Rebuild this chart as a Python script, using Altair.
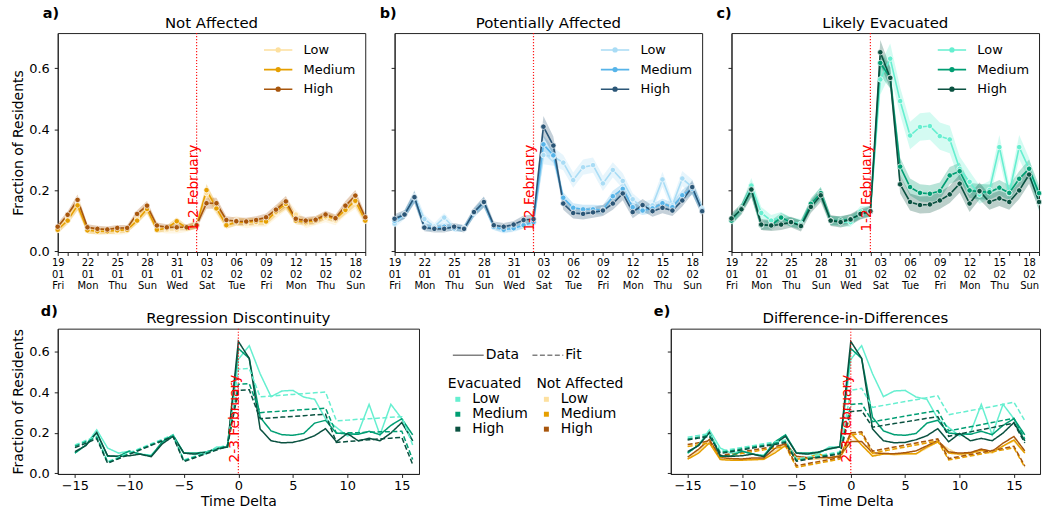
import json
import altair as alt
import pandas as pd

# ---------------- data ----------------
DAYS = list(range(32))                 # 19 Jan .. 19 Feb (daily)
TICK_LABELS = ["19|01|Fri", "", "", "22|01|Mon", "", "", "25|01|Thu", "", "", "28|01|Sun", "", "",
               "31|01|Wed", "", "", "03|02|Sat", "", "", "06|02|Tue", "", "", "09|02|Fri", "", "",
               "12|02|Mon", "", "", "15|02|Thu", "", "", "18|02|Sun", ""]
DELTAS = list(range(-15, 17))
LEVELS = ["Low", "Medium", "High"]

NA_LOW = [0.07, 0.11, 0.155, 0.07, 0.065, 0.068, 0.065, 0.068, 0.11, 0.14, 0.075, 0.07, 0.07, 0.075, 0.09, 0.19,
          0.14, 0.09, 0.10, 0.09, 0.095, 0.095, 0.125, 0.155, 0.12, 0.09, 0.10, 0.11, 0.10, 0.135, 0.16, 0.10]
NA_MED = [0.07, 0.10, 0.15, 0.068, 0.065, 0.065, 0.068, 0.07, 0.10, 0.138, 0.07, 0.075, 0.098, 0.075, 0.085, 0.20,
          0.14, 0.085, 0.095, 0.095, 0.097, 0.097, 0.13, 0.155, 0.10, 0.095, 0.10, 0.115, 0.105, 0.135, 0.165, 0.10]
NA_HIGH = [0.08, 0.119, 0.168, 0.078, 0.073, 0.071, 0.076, 0.076, 0.122, 0.149, 0.084, 0.078, 0.078, 0.078, 0.085, 0.157,
           0.157, 0.102, 0.098, 0.097, 0.102, 0.111, 0.136, 0.163, 0.106, 0.10, 0.103, 0.12, 0.108, 0.149, 0.182, 0.111]

PA_LOW = [0.09, 0.12, 0.18, 0.105, 0.08, 0.11, 0.075, 0.075, 0.125, 0.16, 0.08, 0.07, 0.075, 0.085, 0.095, 0.315,
          0.31, 0.29, 0.233, 0.275, 0.282, 0.222, 0.266, 0.23, 0.17, 0.142, 0.15, 0.235, 0.15, 0.238, 0.21, 0.14]
PA_MED = [0.10, 0.12, 0.175, 0.08, 0.075, 0.08, 0.075, 0.075, 0.125, 0.16, 0.08, 0.07, 0.075, 0.085, 0.095, 0.35,
          0.314, 0.175, 0.142, 0.137, 0.137, 0.135, 0.18, 0.204, 0.144, 0.133, 0.14, 0.157, 0.144, 0.183, 0.205, 0.135]
PA_HIGH = [0.106, 0.12, 0.177, 0.077, 0.073, 0.073, 0.08, 0.073, 0.128, 0.161, 0.085, 0.08, 0.087, 0.102, 0.105, 0.408,
           0.346, 0.156, 0.125, 0.122, 0.127, 0.133, 0.156, 0.189, 0.128, 0.151, 0.131, 0.142, 0.133, 0.166, 0.21, 0.131]

EV_LOW = [0.10, 0.14, 0.215, 0.125, 0.10, 0.11, 0.095, 0.09, 0.15, 0.19, 0.10, 0.095, 0.095, 0.13, 0.13, 0.563,
          0.631, 0.492, 0.379, 0.407, 0.41, 0.377, 0.366, 0.27, 0.227, 0.185, 0.2, 0.341, 0.19, 0.341, 0.27, 0.16]
EV_MED = [0.10, 0.14, 0.20, 0.085, 0.085, 0.11, 0.095, 0.085, 0.155, 0.19, 0.10, 0.10, 0.105, 0.12, 0.13, 0.617,
          0.568, 0.277, 0.21, 0.191, 0.188, 0.197, 0.248, 0.262, 0.199, 0.195, 0.193, 0.208, 0.191, 0.237, 0.27, 0.19]
EV_HIGH = [0.107, 0.137, 0.202, 0.087, 0.084, 0.087, 0.095, 0.082, 0.145, 0.183, 0.10, 0.095, 0.104, 0.122, 0.131, 0.652,
           0.568, 0.219, 0.161, 0.151, 0.153, 0.166, 0.186, 0.221, 0.156, 0.197, 0.161, 0.173, 0.161, 0.199, 0.251, 0.161]

# confidence band half-widths
NA_LOW_CI = [0.015, 0.015, 0.02, 0.012, 0.012, 0.012, 0.012, 0.012, 0.015, 0.02, 0.012, 0.012, 0.012, 0.012, 0.015, 0.025,
             0.02, 0.015, 0.015, 0.015, 0.015, 0.015, 0.018, 0.022, 0.015, 0.015, 0.015, 0.015, 0.015, 0.018, 0.022, 0.015]
NA_MED_CI = [0.012, 0.012, 0.018, 0.01, 0.01, 0.01, 0.01, 0.01, 0.012, 0.015, 0.01, 0.01, 0.012, 0.01, 0.012, 0.02,
             0.015, 0.012, 0.012, 0.012, 0.012, 0.012, 0.015, 0.018, 0.012, 0.012, 0.012, 0.012, 0.012, 0.015, 0.018, 0.012]
NA_HIGH_CI = [0.012, 0.012, 0.018, 0.01, 0.01, 0.01, 0.01, 0.01, 0.012, 0.015, 0.01, 0.01, 0.01, 0.01, 0.012, 0.018,
              0.018, 0.012, 0.012, 0.012, 0.012, 0.012, 0.015, 0.018, 0.012, 0.012, 0.012, 0.012, 0.012, 0.015, 0.018, 0.012]
PA_LOW_CI = [0.015, 0.015, 0.02, 0.015, 0.012, 0.015, 0.012, 0.012, 0.015, 0.018, 0.012, 0.012, 0.012, 0.012, 0.015, 0.03,
             0.03, 0.025, 0.025, 0.025, 0.025, 0.025, 0.025, 0.025, 0.02, 0.02, 0.02, 0.025, 0.02, 0.025, 0.025, 0.02]
PA_MED_CI = [0.012, 0.012, 0.018, 0.012, 0.01, 0.012, 0.01, 0.01, 0.012, 0.015, 0.01, 0.01, 0.01, 0.01, 0.012, 0.03,
             0.025, 0.018, 0.015, 0.015, 0.015, 0.015, 0.018, 0.018, 0.015, 0.015, 0.015, 0.015, 0.015, 0.018, 0.02, 0.015]
PA_HIGH_CI = [0.015, 0.015, 0.02, 0.012, 0.012, 0.012, 0.012, 0.012, 0.015, 0.018, 0.012, 0.012, 0.012, 0.015, 0.015, 0.035,
              0.03, 0.02, 0.018, 0.018, 0.018, 0.018, 0.02, 0.022, 0.02, 0.02, 0.018, 0.018, 0.018, 0.02, 0.022, 0.018]
EV_LOW_CI = [0.018, 0.018, 0.025, 0.02, 0.018, 0.018, 0.015, 0.015, 0.018, 0.02, 0.015, 0.015, 0.015, 0.018, 0.018, 0.05,
             0.05, 0.045, 0.045, 0.045, 0.045, 0.045, 0.045, 0.04, 0.035, 0.03, 0.03, 0.04, 0.03, 0.04, 0.035, 0.03]
EV_MED_CI = [0.015, 0.015, 0.022, 0.015, 0.015, 0.015, 0.015, 0.015, 0.018, 0.02, 0.015, 0.015, 0.015, 0.015, 0.015, 0.04,
             0.035, 0.03, 0.028, 0.028, 0.028, 0.028, 0.028, 0.028, 0.025, 0.025, 0.025, 0.025, 0.025, 0.025, 0.03, 0.025]
EV_HIGH_CI = [0.018, 0.018, 0.025, 0.018, 0.018, 0.018, 0.018, 0.018, 0.02, 0.022, 0.018, 0.018, 0.018, 0.018, 0.018, 0.04,
              0.035, 0.03, 0.028, 0.028, 0.028, 0.028, 0.028, 0.03, 0.028, 0.028, 0.025, 0.025, 0.025, 0.028, 0.03, 0.025]

# regression discontinuity fits (Evacuated)
RD_LOW = [0.14, 0.162, 0.184, 0.058, 0.08, 0.102, 0.124, 0.146, 0.168, 0.19, 0.066, 0.085, 0.104, 0.123, 0.142, 0.515,
          0.518, 0.378, 0.382, 0.386, 0.39, 0.394, 0.398, 0.402, 0.26, 0.263, 0.267, 0.27, 0.273, 0.277, 0.28, 0.14]
RD_MED = [0.134, 0.156, 0.178, 0.053, 0.075, 0.097, 0.119, 0.141, 0.163, 0.185, 0.062, 0.081, 0.1, 0.119, 0.138, 0.44,
          0.443, 0.30, 0.304, 0.307, 0.311, 0.315, 0.318, 0.322, 0.198, 0.2, 0.201, 0.203, 0.205, 0.206, 0.208, 0.068]
RD_HIGH = [0.127, 0.149, 0.171, 0.05, 0.072, 0.094, 0.116, 0.138, 0.16, 0.182, 0.058, 0.077, 0.096, 0.115, 0.134, 0.41,
           0.413, 0.27, 0.274, 0.278, 0.281, 0.285, 0.289, 0.292, 0.153, 0.157, 0.161, 0.166, 0.17, 0.174, 0.178, 0.044]

# difference-in-differences fits
DID_EV_LOW = [0.178, 0.187, 0.196, 0.11, 0.119, 0.128, 0.137, 0.146, 0.155, 0.164, 0.07, 0.079, 0.088, 0.097, 0.106, 0.41,
              0.42, 0.326, 0.336, 0.345, 0.355, 0.364, 0.374, 0.383, 0.29, 0.30, 0.31, 0.32, 0.33, 0.341, 0.352, 0.26]
DID_EV_MED = [0.17, 0.179, 0.188, 0.103, 0.112, 0.121, 0.13, 0.139, 0.148, 0.157, 0.064, 0.073, 0.082, 0.091, 0.10, 0.34,
              0.345, 0.255, 0.264, 0.273, 0.283, 0.292, 0.301, 0.31, 0.21, 0.22, 0.23, 0.241, 0.251, 0.262, 0.272, 0.17]
DID_EV_HIGH = [0.165, 0.174, 0.183, 0.098, 0.107, 0.116, 0.125, 0.134, 0.143, 0.152, 0.06, 0.069, 0.078, 0.087, 0.096, 0.305,
               0.31, 0.228, 0.237, 0.246, 0.254, 0.263, 0.272, 0.28, 0.183, 0.194, 0.205, 0.216, 0.226, 0.237, 0.248, 0.15]
DID_NA_LOW = [0.137, 0.146, 0.155, 0.084, 0.093, 0.102, 0.111, 0.12, 0.129, 0.138, 0.034, 0.044, 0.054, 0.064, 0.074, 0.195,
              0.2, 0.106, 0.116, 0.126, 0.136, 0.146, 0.156, 0.166, 0.07, 0.08, 0.09, 0.1, 0.11, 0.12, 0.13, 0.033]
DID_NA_MED = [0.132, 0.141, 0.15, 0.08, 0.089, 0.098, 0.107, 0.116, 0.125, 0.134, 0.03, 0.04, 0.05, 0.06, 0.07, 0.19,
              0.195, 0.10, 0.11, 0.12, 0.13, 0.14, 0.15, 0.16, 0.066, 0.076, 0.086, 0.096, 0.106, 0.116, 0.126, 0.03]
DID_NA_HIGH = [0.142, 0.151, 0.16, 0.088, 0.097, 0.106, 0.115, 0.124, 0.133, 0.142, 0.038, 0.048, 0.058, 0.068, 0.078, 0.20,
               0.205, 0.11, 0.12, 0.13, 0.14, 0.15, 0.16, 0.17, 0.073, 0.083, 0.093, 0.103, 0.113, 0.123, 0.134, 0.036]

NA_COLORS = ["#fde09f", "#e69f00", "#a8560c"]
PA_COLORS = ["#a9dcf5", "#56b4e9", "#2b5677"]
EV_COLORS = ["#66efd0", "#009e73", "#0a5140"]

EVENT_DAY = 14
EVENT_DELTA = 0
YDOM = [-0.003, 0.715]
FONT = "DejaVu Sans"
LINE_PATH = ("M-1,0L1,0M-0.06,0A0.06,0.06,0,1,1,0.06,0A0.06,0.06,0,1,1,-0.06,0"
             "M-0.13,0A0.13,0.13,0,1,1,0.13,0A0.13,0.13,0,1,1,-0.13,0")
TOP_LABEL_EXPR = "split(" + json.dumps(TICK_LABELS) + "[datum.value], '|')"


def label_layers(title, letter, width, title_y, letter_x, letter_y):
    ttl = alt.Chart(pd.DataFrame({"s": [title]})).mark_text(
        align="center", baseline="middle", fontSize=15, color="black").encode(
        x=alt.value(width / 2), y=alt.value(title_y), text="s:N")
    let = alt.Chart(pd.DataFrame({"s": [letter]})).mark_text(
        align="left", baseline="middle", fontWeight="bold", fontSize=14.5, color="black").encode(
        x=alt.value(letter_x), y=alt.value(letter_y), text="s:N")
    return [ttl, let]


def top_panel(title, letter, event_text, series, cis, colors, show_y):
    rows = []
    for lvl, vals, hw in zip(LEVELS, series, cis):
        for d, v, h in zip(DAYS, vals, hw):
            rows.append({"day": d, "level": lvl, "group": lvl, "value": v, "lo": v - h, "hi": v + h})
    df = pd.DataFrame(rows)
    xaxis = alt.Axis(values=DAYS, title=None, labelFontSize=10, labelLineHeight=11.7,
                     labelPadding=2, labelFlush=False, labelOverlap=False, labelAngle=0,
                     labelExpr=TOP_LABEL_EXPR)
    xscale = alt.Scale(domain=[0, 31], nice=False, zero=False)
    xenc = alt.X("day:Q", scale=xscale, axis=xaxis)
    yaxis = alt.Axis(values=[0, 0.2, 0.4, 0.6], format=".1f", labelPadding=5,
                     title="Fraction of Residents" if show_y else None, labels=show_y, titlePadding=3)
    yscale = alt.Scale(domain=YDOM, nice=False, zero=False)
    yenc = alt.Y("value:Q", scale=yscale, axis=yaxis)
    base = alt.Chart(df)
    band = base.mark_area(opacity=0.28).encode(
        x=xenc, y=alt.Y("lo:Q", scale=yscale, axis=yaxis), y2="hi:Q",
        fill=alt.Fill("group:N", scale=alt.Scale(domain=LEVELS, range=colors), legend=None),
        detail="group:N")
    line = base.mark_line(strokeWidth=1.6).encode(
        x=xenc, y=yenc,
        color=alt.Color("level:N", scale=alt.Scale(domain=LEVELS, range=colors),
                        legend=alt.Legend(title=None, orient="none", legendX=206, legendY=9, padding=0,
                                          symbolType=LINE_PATH, symbolSize=812, symbolStrokeWidth=1.6,
                                          labelFontSize=13, labelOffset=10, clipHeight=16, rowPadding=3.7)))
    pts = base.mark_circle(size=30, opacity=1, stroke="white", strokeWidth=0.7).encode(
        x=xenc, y=yenc, fill=alt.Fill("group:N", scale=alt.Scale(domain=LEVELS, range=colors), legend=None))
    rule = alt.Chart(pd.DataFrame({"day": [EVENT_DAY]})).mark_rule(
        color="red", strokeDash=[1.2, 1.8], strokeWidth=1.2, opacity=0.9).encode(x=xenc)
    txt = alt.Chart(pd.DataFrame({"day": [EVENT_DAY], "value": [0.064], "t": [event_text]})).mark_text(
        angle=270, align="left", baseline="middle", dy=-3, color="red", fontSize=13.7).encode(
        x=xenc, y=yenc, text="t:N")
    layers = [band, line, pts, rule, txt] + label_layers(title, letter, 309, -10, -15, -19)
    return alt.layer(*layers).resolve_scale(color="independent", fill="independent").properties(
        width=309, height=220)


def bottom_panel(title, letter, series_list, domain, width, show_y, with_legend):
    rows = []
    names, cols = [], []
    for name, kind, vals, col in series_list:
        if name not in names:
            names.append(name)
            cols.append(col)
        for t, v in zip(DELTAS, vals):
            rows.append({"t": t, "series": name, "kind": kind, "value": v})
    df = pd.DataFrame(rows)
    xenc = alt.X("t:Q", scale=alt.Scale(domain=domain, nice=False, zero=False),
                 axis=alt.Axis(values=[-15, -10, -5, 0, 5, 10, 15], format="d", title="Time Delta",
                               labelPadding=2.5, labelFlush=False, labelOverlap=False, titlePadding=2))
    yaxis = alt.Axis(values=[0, 0.2, 0.4, 0.6], format=".1f", labelPadding=5,
                     title="Fraction of Residents" if show_y else None, labels=show_y, titlePadding=3)
    yenc = alt.Y("value:Q", scale=alt.Scale(domain=YDOM, nice=False, zero=False), axis=yaxis)
    dash_leg = None
    if with_legend:
        dash_leg = alt.Legend(title=None, orient="none", direction="horizontal", legendX=396, legendY=10,
                              padding=0, symbolType="stroke", symbolSize=961, symbolStrokeWidth=1.6,
                              symbolStrokeColor="#808080", labelFontSize=14, labelOffset=1, columnPadding=9)
    lines = alt.Chart(df).mark_line(strokeWidth=1.5).encode(
        x=xenc, y=yenc,
        stroke=alt.Stroke("series:N", scale=alt.Scale(domain=names, range=cols), legend=None),
        strokeDash=alt.StrokeDash("kind:N", scale=alt.Scale(domain=["Data", "Fit"], range=[[1, 0], [5, 2.5]]),
                                  legend=dash_leg))
    rule = alt.Chart(pd.DataFrame({"t": [EVENT_DELTA]})).mark_rule(
        color="red", strokeDash=[1.2, 1.8], strokeWidth=1.2, opacity=0.9).encode(x=xenc)
    txt = alt.Chart(pd.DataFrame({"t": [EVENT_DELTA], "value": [0.054], "s": ["2-3 February"]})).mark_text(
        angle=270, align="left", baseline="middle", dy=-3.5, color="red", fontSize=13.8).encode(
        x=xenc, y=yenc, text="s:N")
    layers = [lines, rule, txt] + label_layers(title, letter, width, -11, -17, -17)
    if with_legend:
        lv = pd.DataFrame({"level": LEVELS})
        common = dict(orient="none", legendY=49, padding=0, symbolType="square", symbolSize=25,
                      symbolOpacity=1, symbolStrokeWidth=0, titleFontSize=14, labelFontSize=14,
                      titleFontWeight="normal", titlePadding=1, rowPadding=1, symbolOffset=3, labelOffset=7.4)
        sq1 = alt.Chart(lv).mark_square(opacity=0, size=25).encode(
            color=alt.Color("level:N", scale=alt.Scale(domain=LEVELS, range=EV_COLORS),
                            legend=alt.Legend(title="Evacuated", legendX=392, **common)))
        sq2 = alt.Chart(lv).mark_square(opacity=0, size=25).encode(
            fill=alt.Fill("level:N", scale=alt.Scale(domain=LEVELS, range=NA_COLORS),
                          legend=alt.Legend(title="Not Affected", legendX=481, **common)))
        layers += [sq1, sq2]
    return alt.layer(*layers).resolve_scale(color="independent", fill="independent").properties(
        width=width, height=146)


a = top_panel("Not Affected", "a)", "1-2 February", [NA_LOW, NA_MED, NA_HIGH],
              [NA_LOW_CI, NA_MED_CI, NA_HIGH_CI], NA_COLORS, True)
b = top_panel("Potentially Affected", "b)", "1-2 February", [PA_LOW, PA_MED, PA_HIGH],
              [PA_LOW_CI, PA_MED_CI, PA_HIGH_CI], PA_COLORS, False)
c = top_panel("Likely Evacuated", "c)", "1-2 February", [EV_LOW, EV_MED, EV_HIGH],
              [EV_LOW_CI, EV_MED_CI, EV_HIGH_CI], EV_COLORS, False)

d = bottom_panel("Regression Discontinuity", "d)", [
    ("Evacuated Low", "Data", EV_LOW, EV_COLORS[0]),
    ("Evacuated Medium", "Data", EV_MED, EV_COLORS[1]),
    ("Evacuated High", "Data", EV_HIGH, EV_COLORS[2]),
    ("Evacuated Low", "Fit", RD_LOW, EV_COLORS[0]),
    ("Evacuated Medium", "Fit", RD_MED, EV_COLORS[1]),
    ("Evacuated High", "Fit", RD_HIGH, EV_COLORS[2]),
], [-16.58, 16.58], 363, True, True)

e = bottom_panel("Difference-in-Differences", "e)", [
    ("Not Affected Low", "Data", NA_LOW, NA_COLORS[0]),
    ("Not Affected Medium", "Data", NA_MED, NA_COLORS[1]),
    ("Not Affected High", "Data", NA_HIGH, NA_COLORS[2]),
    ("Not Affected Low", "Fit", DID_NA_LOW, NA_COLORS[0]),
    ("Not Affected Medium", "Fit", DID_NA_MED, NA_COLORS[1]),
    ("Not Affected High", "Fit", DID_NA_HIGH, NA_COLORS[2]),
    ("Evacuated Low", "Data", EV_LOW, EV_COLORS[0]),
    ("Evacuated Medium", "Data", EV_MED, EV_COLORS[1]),
    ("Evacuated High", "Data", EV_HIGH, EV_COLORS[2]),
    ("Evacuated Low", "Fit", DID_EV_LOW, EV_COLORS[0]),
    ("Evacuated Medium", "Fit", DID_EV_MED, EV_COLORS[1]),
    ("Evacuated High", "Fit", DID_EV_HIGH, EV_COLORS[2]),
], [-16.55, 17.4], 371, False, False)

top = alt.hconcat(a, b, c, spacing=29.5, bounds="flush").resolve_scale(color="independent", fill="independent")
bottom = alt.hconcat(d, e, spacing=253, bounds="flush").resolve_scale(
    stroke="independent", strokeDash="independent", color="independent", fill="independent")

chart = alt.vconcat(top, bottom, spacing=11).properties(
    padding={"left": 11, "top": 4, "right": 0, "bottom": 0}
).configure_view(stroke="#222222", strokeWidth=1).configure_axis(
    grid=False, domainColor="#222222", tickColor="#222222", labelColor="black", titleColor="black",
    labelFont=FONT, titleFont=FONT, titleFontWeight="normal", tickSize=3.5, labelFontSize=13, titleFontSize=14
).configure_axisX(labelOverlap=False).configure_legend(
    labelFont=FONT, titleFont=FONT, labelColor="black", titleColor="black"
).configure_title(font=FONT, color="black").configure_text(font=FONT)

chart.save("out.html", embed_options={"renderer": "svg", "actions": False})
